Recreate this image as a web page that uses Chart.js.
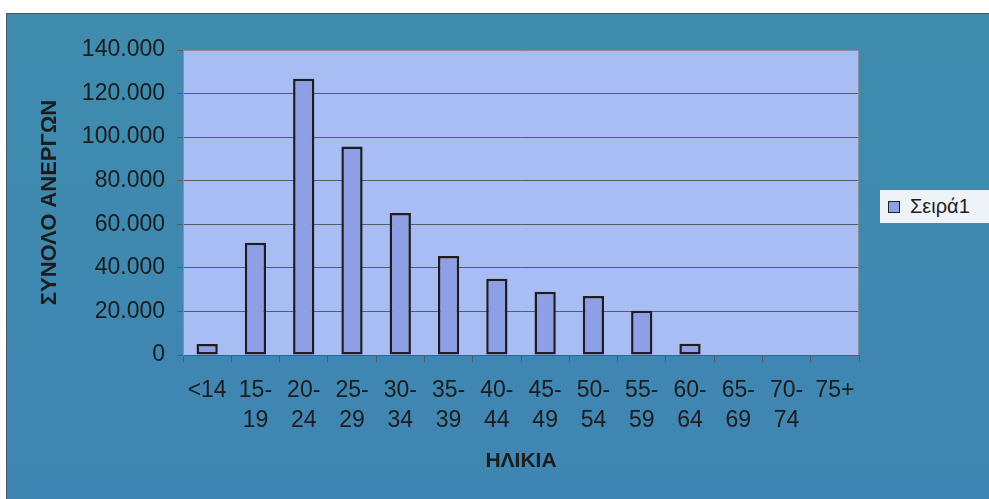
<!DOCTYPE html>
<html>
<head>
<meta charset="utf-8">
<script src="https://cdn.jsdelivr.net/npm/chart.js@4"></script>
<style>
  html, body { margin: 0; padding: 0; background: #fff; }
  #wrap { position: relative; width: 989px; height: 499px; }
  #legend {
    position: absolute; left: 880px; top: 190px; width: 109px; height: 33px;
    background: #eef3f7; font-family: 'Liberation Sans', Arial, sans-serif;
    font-size: 20px; color: #1c1c1c; box-sizing: border-box;
  }
  #legend .box {
    position: absolute; left: 8px; top: 11px; width: 10px; height: 10px;
    background: #8e9fe6; border: 1.5px solid #222;
  }
  #legend .txt { position: absolute; left: 30px; top: 5px; }
</style>
</head>
<body>
<div id="wrap">
  <canvas id="chart" width="989" height="499"></canvas>
  <div id="legend"><span class="box"></span><span class="txt">Σειρά1</span></div>
</div>
<script>
  // age groups and number of unemployed
  var ageGroups = ['<14', '15-19', '20-24', '25-29', '30-34', '35-39', '40-44',
                   '45-49', '50-54', '55-59', '60-64', '65-69', '70-74', '75+'];
  var unemployed = [5000, 51500, 126800, 95700, 65200, 45500, 35000,
                    29000, 27100, 20300, 5200, 0, 0, 0];
  var seriesName = 'Σειρά1';
  var yTitle = 'ΣΥΝΟΛΟ ΑΝΕΡΓΩΝ';
  var xTitle = 'ΗΛΙΚΙΑ';

  var font = "'Liberation Sans', Arial, sans-serif";

  // outer frame + plot area fill
  var frame = {
    id: 'frame',
    beforeDraw: function (chart) {
      var c = chart.ctx, a = chart.chartArea;
      c.save();
      c.fillStyle = '#ffffff';
      c.fillRect(0, 0, chart.width, chart.height);
      var g = c.createLinearGradient(0, 13, 0, chart.height);
      g.addColorStop(0, '#3f8cae');
      g.addColorStop(1, '#3f85b3');
      c.fillStyle = g;
      c.fillRect(6, 13, chart.width - 6, chart.height - 13);
      c.strokeStyle = '#4a5560';
      c.lineWidth = 1;
      c.beginPath();
      c.moveTo(6.5, chart.height); c.lineTo(6.5, 13.5); c.lineTo(chart.width, 13.5);
      c.stroke();
      c.fillStyle = '#a7bdf3';
      c.fillRect(a.left, a.top, a.right - a.left, a.bottom - a.top);
      c.restore();
    },
    afterDraw: function (chart) {
      var c = chart.ctx, a = chart.chartArea;
      c.save();
      c.strokeStyle = '#8a8f9a';
      c.lineWidth = 1;
      c.beginPath();
      c.moveTo(a.left, a.top + 0.5); c.lineTo(a.right - 0.5, a.top + 0.5); c.lineTo(a.right - 0.5, a.bottom);
      c.stroke();
      c.restore();
    }
  };

  new Chart(document.getElementById('chart'), {
    type: 'bar',
    data: {
      labels: ageGroups,
      datasets: [{
        label: seriesName,
        data: unemployed,
        backgroundColor: '#8e9fe6',
        borderColor: '#1e1e1e',
        borderWidth: 2.5,
        borderSkipped: false,
        barPercentage: 0.44,
        categoryPercentage: 1
      }]
    },
    options: {
      responsive: false,
      animation: false,
      layout: { padding: { left: 0, top: 50, right: 130, bottom: 0 } },
      plugins: { legend: { display: false }, tooltip: { enabled: false } },
      scales: {
        x: {
          afterFit: function (s) { s.height = 144; },
          grid: { display: true, drawOnChartArea: false, offset: true, tickLength: 7, color: '#555c66' },
          border: { color: '#555c66' },
          ticks: {
            color: '#1c1c1c', padding: 14, maxRotation: 0, autoSkip: false,
            font: { family: font, size: 23, lineHeight: 1.3 },
            callback: function (v, i) {
              var t = ageGroups[i];
              var k = t.indexOf('-');
              return k > 0 ? [t.slice(0, k + 1), t.slice(k + 1)] : t;
            }
          },
          title: {
            display: true, text: xTitle, color: '#1c1c1c',
            padding: { top: 0, bottom: 25 },
            font: { family: font, size: 21, weight: 'bold' }
          }
        },
        y: {
          min: 0, max: 140000,
          afterFit: function (s) { s.width = 183; },
          grid: { color: '#565b66', tickLength: 6 },
          border: { color: '#8a8f9a' },
          ticks: {
            stepSize: 20000, color: '#1c1c1c', padding: 12,
            font: { family: font, size: 23 },
            callback: function (v) { return v === 0 ? '0' : (v / 1000) + '.000'; }
          },
          title: {
            display: true, text: yTitle, color: '#1c1c1c',
            padding: { top: 37, bottom: 0 },
            font: { family: font, size: 22, weight: 'bold' }
          }
        }
      }
    },
    plugins: [frame]
  });
</script>
</body>
</html>
